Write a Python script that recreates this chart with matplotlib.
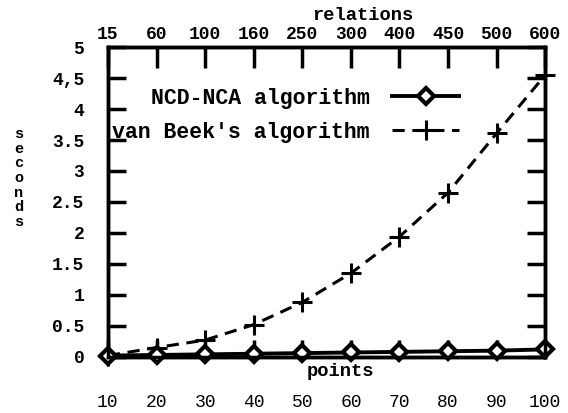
import matplotlib.pyplot as plt

# x axis: number of points, top axis: number of relations
points = [10, 20, 30, 40, 50, 60, 70, 80, 90, 100]
relations = [15, 60, 100, 160, 250, 300, 400, 450, 500, 600]

# running time in seconds
ncd_nca = [0.02, 0.03, 0.04, 0.05, 0.06, 0.07, 0.08, 0.09, 0.10, 0.12]
van_beek = [0.02, 0.15, 0.27, 0.52, 0.88, 1.35, 1.94, 2.65, 3.61, 4.55]

y_ticks = [0, 0.5, 1, 1.5, 2, 2.5, 3, 3.5, 4, 4.5, 5]
y_labels = ['0', '0.5', '1', '1.5', '2', '2.5', '3', '3.5', '4', '4,5', '5']

plt.rcParams['font.family'] = ['Liberation Mono', 'DejaVu Sans Mono']
plt.rcParams['font.weight'] = 'bold'

fig = plt.figure(figsize=(5.68, 4.13), dpi=100)
ax = fig.add_axes([0.190, 0.136, 0.770, 0.750])

ax.plot(points, ncd_nca, color='black', lw=2.8, marker='D', ms=8,
        mfc='white', mec='black', mew=3, clip_on=False, zorder=4,
        label='NCD-NCA algorithm')
ax.plot(points, van_beek, color='black', lw=2.2, ls=(0, (4, 2.5)),
        marker='+', ms=14, mew=2.2, clip_on=False, zorder=3,
        label="van Beek's algorithm")

ax.set_xlim(10, 100)
ax.set_ylim(0, 5)

ax.set_xticks(points)
ax.set_xticklabels([str(p) for p in points], fontweight='normal')
ax.set_yticks(y_ticks)
ax.set_yticklabels(y_labels)
ax.tick_params(axis='x', direction='in', length=12, width=2.5, pad=27,
               labelsize=13)
ax.tick_params(axis='y', direction='in', length=13, width=2.5, pad=17,
               labelsize=13, right=True)

for s in ax.spines.values():
    s.set_linewidth(2.5)

# top axis with number of relations
ax2 = ax.twiny()
ax2.set_xlim(ax.get_xlim())
ax2.set_xticks(points)
ax2.set_xticklabels([str(r) for r in relations])
ax2.tick_params(axis='x', direction='in', length=15, width=2.5, pad=3,
                labelsize=13)
for s in ax2.spines.values():
    s.set_linewidth(2.5)

fig.text(363 / 568, 1 - 15 / 413, 'relations', ha='center', va='center',
         fontsize=13.5, fontweight='bold')
fig.text(340 / 568, 1 - 372 / 413, 'points', ha='center', va='center',
         fontsize=13.5, fontweight='bold')
fig.text(19 / 568, 1 - 178 / 413, '\n'.join('seconds'), ha='center',
         va='center', fontsize=11, fontweight='bold', linespacing=1.05)

ax.legend(loc='upper left', bbox_to_anchor=(-0.02, 0.91), frameon=False,
          markerfirst=False, handlelength=3.1, handletextpad=1.05,
          labelspacing=0.6, fontsize=15.5, borderaxespad=0.2)

fig.savefig('out.png', dpi=100)
